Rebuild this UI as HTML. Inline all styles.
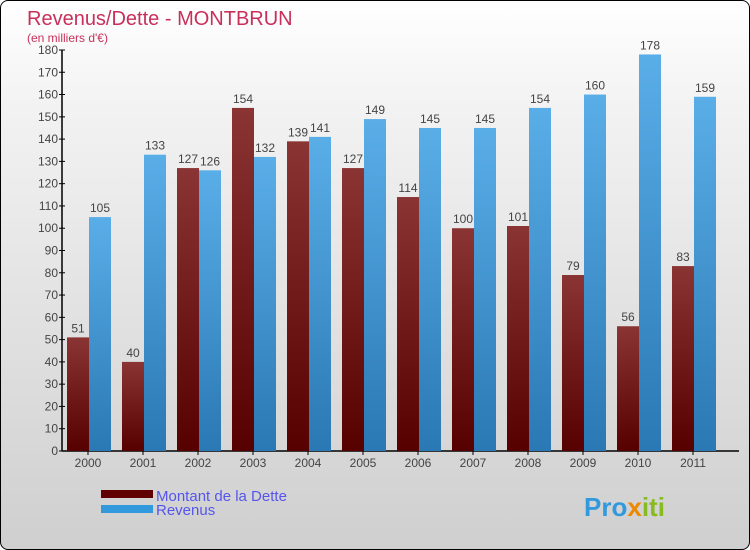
<!DOCTYPE html>
<html><head><meta charset="utf-8"><style>
body{margin:0;width:750px;height:550px;overflow:hidden;font-family:"Liberation Sans",sans-serif}
#c{position:absolute;left:0;top:0;width:748px;height:548px;border:1px solid #000;border-radius:8px;background:linear-gradient(#ffffff,#f2f2f2 20%,#cfcfcf);overflow:hidden}
</style></head><body>
<div id="c">
<svg width="750" height="550" id="s">
<defs>
<linearGradient id="gm" x1="0" y1="0" x2="0" y2="1"><stop offset="0" stop-color="#8a3434"/><stop offset="1" stop-color="#560000"/></linearGradient>
<linearGradient id="gb" x1="0" y1="0" x2="0" y2="1"><stop offset="0" stop-color="#5aaee8"/><stop offset="1" stop-color="#2a78b4"/></linearGradient>
</defs>
<text x="26" y="24" font-size="20" fill="#c8305a">Revenus/Dette - MONTBRUN</text>
<text x="26" y="41" font-size="12" fill="#c8305a">(en milliers d'€)</text>
<g id="ax"></g><g id="bars"></g>
<rect x="100" y="489" width="52" height="8" fill="#600000"/>
<rect x="100" y="504" width="52" height="8" fill="#3399dd"/>
<text x="155" y="500" font-size="15" fill="#5555ee">Montant de la Dette</text>
<text x="155" y="514" font-size="15" fill="#5555ee">Revenus</text>
<text x="583" y="515" font-size="26" font-weight="bold" fill="#3399dd">Pro<tspan fill="#ee8800">x</tspan><tspan fill="#88bb22">iti</tspan></text>
</svg></div>
<script>
const years=["2000","2001","2002","2003","2004","2005","2006","2007","2008","2009","2010","2011"];
const dette=[51,40,127,154,139,127,114,100,101,79,56,83];
const revenus=[105,133,126,132,141,149,145,145,154,160,178,159];
const ticks=[0,10,20,30,40,50,60,70,80,90,100,110,120,130,140,150,160,170,180];
const NS="http://www.w3.org/2000/svg";
const x0=61,step=55,y0=450,ppu=401/180;
const Y=v=>y0-v*ppu;
function mk(t,a,p){const e=document.createElementNS(NS,t);for(const k in a)e.setAttribute(k,a[k]);p.appendChild(e);return e;}
const ax=document.getElementById('ax'),bars=document.getElementById('bars');
let l=mk('line',{x1:x0,y1:Y(180),x2:x0,y2:y0,stroke:'#000','stroke-width':1.5},ax);


l=mk('line',{x1:x0,y1:y0,x2:738,y2:y0,stroke:'#000','stroke-width':1.5},ax);


ticks.forEach(t=>{
 const tk=mk('line',{x1:x0-3,y1:Y(t),x2:x0+3,y2:Y(t),stroke:'#000'},ax);
 
 
 const tx=mk('text',{x:x0-4,y:Y(t)+4,'font-size':12,fill:'#444','text-anchor':'end'},ax);tx.textContent=t;
 
 
});
years.forEach((yr,i)=>{
 const cx=x0+step*i+26;
 const tk=mk('line',{x1:cx,y1:y0,x2:cx,y2:y0+4,stroke:'#000'},ax);
 
 
 const tx=mk('text',{x:cx,y:y0+16,'font-size':12,fill:'#444','text-anchor':'middle'},ax);tx.textContent=yr;
 
 
 [[dette[i],'url(#gm)',cx-21,'bar-dette'],[revenus[i],'url(#gb)',cx+1,'bar-revenus']].forEach(([v,f,bx,nm])=>{
  const r=mk('rect',{x:bx,y:Y(v),width:22,height:v*ppu,fill:f},bars);
  
  
  const t=mk('text',{x:bx+11,y:Y(v)-5,'font-size':12,fill:'#444','text-anchor':'middle'},bars);t.textContent=v;
  
  
 });
});
</script>
</body></html>
